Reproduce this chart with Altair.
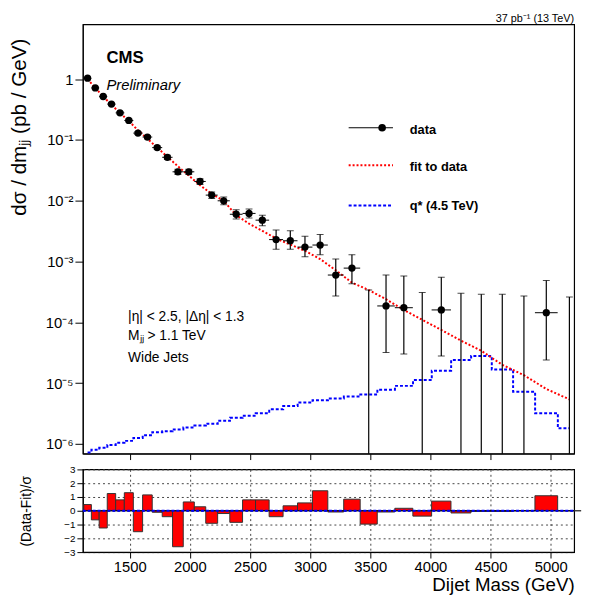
import pandas as pd
import altair as alt

# bin edges (GeV)
edges = [1118, 1181, 1246, 1313, 1383, 1455, 1530, 1607, 1687, 1770, 1856, 1945,
         2037, 2132, 2231, 2332, 2438, 2546, 2659, 2775, 2895, 3019, 3147, 3279,
         3416, 3558, 3704, 3854, 4010, 4171, 4337, 4509, 4686, 4869, 5058, 5253]

# data points (None = empty bin)
data_val = [1.04, 0.72, 0.52, 0.39, 0.28, 0.21, 0.13, 0.112, 0.075, 0.052, 0.030, 0.030,
            0.0208, 0.0124, 0.0100, 0.0060, 0.0062, 0.0048, 0.0023, 0.0022, 0.00173, 0.00187,
            0.0006, 0.00078, None, 1.86e-4, 1.74e-4, None, 1.6e-4, None, None, None, None,
            1.44e-4, None]
data_lo = [1.02, 0.70, 0.50, 0.375, 0.268, 0.20, 0.123, 0.105, 0.070, 0.048, 0.027, 0.027,
           0.0186, 0.0109, 0.0086, 0.0050, 0.0052, 0.0039, 0.0016, 0.0016, 0.0012, 0.0013,
           0.00027, 0.00043, 1e-8, 3.2e-5, 3.0e-5, 1e-8, 2.8e-5, 1e-8, 1e-8, 1e-8, 1e-8,
           2.4e-5, 1e-8]
data_hi = [1.06, 0.74, 0.54, 0.405, 0.292, 0.22, 0.137, 0.119, 0.080, 0.056, 0.033, 0.033,
           0.023, 0.0139, 0.0115, 0.0071, 0.0073, 0.0058, 0.0033, 0.0032, 0.0026, 0.0028,
           0.0011, 0.0013, 3.4e-4, 6e-4, 5.8e-4, 3.1e-4, 5.5e-4, 3.0e-4, 2.9e-4, 2.9e-4, 2.7e-4,
           4.9e-4, 2.6e-4]

fit_val = [1.0, 0.72, 0.52, 0.38, 0.28, 0.205, 0.145, 0.105, 0.075, 0.053, 0.037, 0.026,
           0.018, 0.0130, 0.0100, 0.0058, 0.0042, 0.0032, 0.0024, 0.0019, 0.0015, 0.0011,
           7.2e-4, 4.5e-4, 3.4e-4, 2.4e-4, 1.6e-4, 1.1e-4, 7.5e-5, 5e-5, 3.4e-5, 2e-5,
           1.35e-5, 8.0e-6, 5.4e-6]

qstar_val = [7.2e-7, 8.0e-7, 8.6e-7, 9.6e-7, 1.04e-6, 1.12e-6, 1.25e-6, 1.39e-6, 1.55e-6,
             1.61e-6, 1.73e-6, 1.86e-6, 2.0e-6, 2.15e-6, 2.4e-6, 2.7e-6, 2.9e-6, 3.2e-6,
             3.7e-6, 4.2e-6, 4.8e-6, 5.2e-6, 5.6e-6, 6.0e-6, 6.5e-6, 7.8e-6, 9.0e-6, 1.12e-5,
             1.6e-5, 2.4e-5, 2.8e-5, 1.67e-5, 7.2e-6, 3.2e-6, 1.8e-6]

pull_val = [0.45, -0.66, -1.25, 1.25, 0.79, 1.31, -1.52, 1.15, -0.11, -0.43, -2.61, 0.64,
            0.29, -0.91, -0.2, -0.84, 0.79, 0.79, -0.43, 0.36, 0.57, 1.45, -0.09, 0.84,
            -0.97, -0.09, 0.18, -0.39, 0.70, -0.16, -0.05, -0.05, 0.0, 1.09, 0.0]

df = pd.DataFrame({
    "lo": edges[:-1], "hi": edges[1:],
    "mid": [(a + b) / 2 for a, b in zip(edges[:-1], edges[1:])],
    "val": data_val, "elo": data_lo, "ehi": data_hi,
    "fit": fit_val, "qstar": qstar_val, "pull": pull_val,
})

FONT = "Liberation Sans"
xdom = [1110, 5195]
xs = alt.Scale(domain=xdom, nice=False, zero=False)
ys = alt.Scale(type="log", domain=[6.9e-7, 8.0], nice=False)
decades = [1, 0.1, 0.01, 0.001, 1e-4, 1e-5, 1e-6]
xticks = [1500, 2000, 2500, 3000, 3500, 4000, 4500, 5000]
W = 499
H = 436

base = alt.Chart(df)
xnone = alt.X("mid:Q", scale=xs, axis=alt.Axis(labels=False, title=None, tickSize=6,
                                                 grid=False, values=xticks))

qline = base.mark_line(interpolate="step", color="blue", strokeDash=[3, 2],
                       strokeWidth=2, clip=True).encode(
    x=xnone,
    y=alt.Y("qstar:Q", scale=ys, axis=alt.Axis(
        values=decades, title="dσ / dmⱼⱼ  (pb / GeV)", titleFontSize=21,
        titleFontWeight="normal", titleAnchor="end", titleY=14, titlePadding=8,
        labelFontSize=15,
        labelExpr="datum.value == 1 ? '1' : '10' + ['', '⁻¹', '⁻²', '⁻³', '⁻⁴', '⁻⁵', '⁻⁶'][round(-log(datum.value) / LN10)]",
        minExtent=46, maxExtent=46, tickSize=8, grid=False)))
fline = base.mark_line(color="red", strokeDash=[2, 2], strokeWidth=2, clip=True).encode(
    x=alt.X("mid:Q", scale=xs), y=alt.Y("fit:Q", scale=ys))
xerr = base.mark_rule(color="black", strokeWidth=1).encode(
    x=alt.X("lo:Q", scale=xs), x2="hi:Q", y=alt.Y("val:Q", scale=ys))
yerr = base.mark_rule(color="black", strokeWidth=1.2, clip=True).encode(
    x=alt.X("mid:Q", scale=xs), y=alt.Y("elo:Q", scale=ys), y2="ehi:Q")
ycap = base.mark_tick(color="black", size=7, thickness=1, orient="horizontal", clip=True).encode(
    x=alt.X("mid:Q", scale=xs), y=alt.Y("ehi:Q", scale=ys))
ycap2 = base.mark_tick(color="black", size=7, thickness=1, orient="horizontal", clip=True).encode(
    x=alt.X("mid:Q", scale=xs), y=alt.Y("elo:Q", scale=ys))
pts = base.mark_circle(color="black", size=55, opacity=1).encode(
    x=alt.X("mid:Q", scale=xs), y=alt.Y("val:Q", scale=ys))

one = alt.Chart(pd.DataFrame({"a": [0]}))


def txt(s, x, y, size=13, weight="normal", style="normal", align="left"):
    return one.mark_text(text=s, font=FONT, fontSize=size, fontWeight=weight,
                         fontStyle=style, align=align, baseline="middle").encode(
        x=alt.value(x), y=alt.value(y))


legend = [
    one.mark_rule(color="black").encode(x=alt.value(270), x2=alt.value(315), y=alt.value(105)),
    one.mark_point(filled=True, color="black", size=60, opacity=1).encode(x=alt.value(304), y=alt.value(105)),
    txt("data", 332, 107, 13, "bold"),
    one.mark_rule(color="red", strokeDash=[2, 2], strokeWidth=2).encode(x=alt.value(270), x2=alt.value(315), y=alt.value(143)),
    txt("fit to data", 332, 145, 13, "bold"),
    one.mark_rule(color="blue", strokeDash=[3, 2], strokeWidth=2).encode(x=alt.value(270), x2=alt.value(315), y=alt.value(184)),
    txt("q* (4.5 TeV)", 332, 185, 13, "bold"),
    txt("CMS", 24, 34, 17, "bold"),
    txt("Preliminary", 24, 62, 15, style="italic"),
    txt("|η| < 2.5, |Δη| < 1.3", 46, 297, 14),
    txt("Mⱼⱼ > 1.1 TeV", 46, 317, 14),
    txt("Wide Jets", 46, 339, 14),
    txt("37 pb⁻¹ (13 TeV)", W, -5, 11, align="right"),
]

top = alt.layer(qline, fline, xerr, yerr, ycap, ycap2, pts, *legend).properties(width=W, height=H)

ps = alt.Scale(domain=[-3, 3], nice=False)
bars = base.mark_rect(color="red", stroke="#333333", strokeWidth=1).encode(
    x=alt.X("lo:Q", scale=xs, axis=alt.Axis(
        values=xticks, format="d", title="Dijet Mass (GeV)",
        titleAnchor="end", titleFontSize=19, titleFontWeight="normal", labelFontSize=15,
        titlePadding=1, grid=True, gridDash=[2, 3], gridColor="#444", tickSize=6)),
    x2="hi:Q",
    y=alt.Y("pull:Q", scale=ps, axis=alt.Axis(
        values=[-3, -2, -1, 0, 1, 2, 3], title="(Data-Fit)/σ", titleFontSize=14,
        titleFontWeight="normal", labelFontSize=10, minExtent=46, maxExtent=46,
        grid=True, gridDash=[2, 3], gridColor="#444", tickSize=6)),
    y2=alt.datum(0))
zero = one.mark_rule(color="black").encode(x=alt.value(0), x2=alt.value(W), y=alt.value(42))
bzero = one.mark_rule(color="blue", strokeDash=[3, 2], strokeWidth=2).encode(
    x=alt.value(0), x2=alt.value(W), y=alt.value(42))
bottom = alt.layer(bars, zero, bzero).properties(width=W, height=84)

chart = alt.vconcat(top, bottom, spacing=2).properties(
    padding={"left": 0, "top": 0, "right": 0, "bottom": 0}
).configure_view(stroke="black", strokeWidth=1.2).configure_axis(
    labelFont=FONT, titleFont=FONT, labelColor="black", titleColor="black",
    domainColor="black", tickColor="black"
)

chart.save("out.html", embed_options={"renderer": "svg", "actions": False})
